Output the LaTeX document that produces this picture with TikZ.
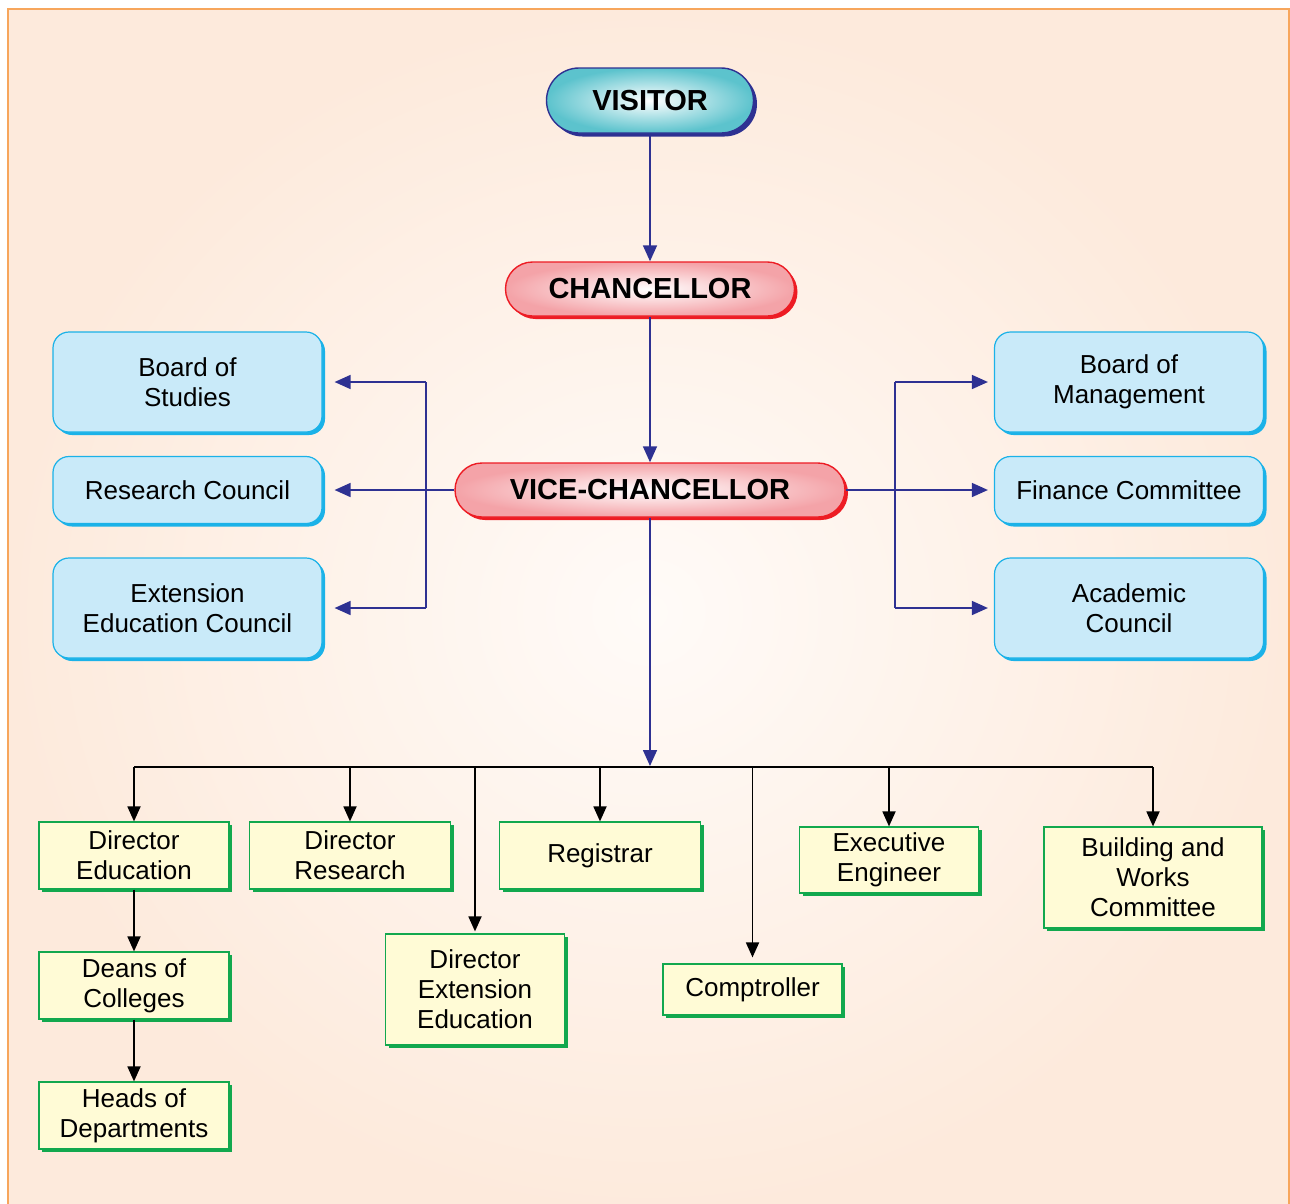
\documentclass[tikz,border=0pt]{standalone}
\usepackage{fontspec}
\setmainfont{Liberation Sans}
\usetikzlibrary{arrows.meta,shadows,shapes.misc}
\definecolor{navy}{HTML}{2E3192}
\definecolor{bgout}{HTML}{FDEADC}
\definecolor{bgin}{HTML}{FFFBF8}
\definecolor{bord}{HTML}{F7A65C}
\definecolor{cyanb}{HTML}{1BB2E8}
\definecolor{bluefill}{HTML}{C9EAF9}
\definecolor{greenb}{HTML}{12A84E}
\definecolor{yfill}{HTML}{FFFBD6}
\definecolor{tealc}{HTML}{5CC3CD}
\definecolor{redb}{HTML}{ED1C24}
\definecolor{pinkfill}{HTML}{F4A3A8}
\tikzset{
  txt/.style={font=\fontsize{26}{30}\selectfont, align=center, text=black, inner sep=0pt},
  oval/.style={rounded rectangle, font=\fontsize{29}{32}\selectfont\bfseries, inner sep=0pt, line width=1.4pt},
  visitorbox/.style={oval, draw=navy, shading=radial, inner color=white, outer color=tealc,
     drop shadow={shadow xshift=3.5pt, shadow yshift=-3.5pt, fill=navy, opacity=1}},
  redbox/.style={oval, draw=redb, shading=radial, inner color=white, outer color=pinkfill,
     drop shadow={shadow xshift=3pt, shadow yshift=-3pt, fill=redb, opacity=1}},
  bluebox/.style={txt, rounded corners=16pt, draw=cyanb, fill=bluefill, line width=1.2pt,
     minimum width=269pt, drop shadow={shadow xshift=3pt, shadow yshift=-3pt, fill=cyanb, opacity=1}},
  greenbox/.style={txt, draw=greenb, fill=yfill, line width=1.2pt,
     drop shadow={shadow xshift=3pt, shadow yshift=-3pt, fill=greenb, opacity=1}},
  barr/.style={draw=navy, line width=1.6pt, -{Triangle[length=16pt,width=14pt]}},
  bline/.style={draw=navy, line width=1.6pt},
  karr/.style={draw=black, line width=1.8pt, -{Triangle[length=15pt,width=13pt]}},
  kline/.style={draw=black, line width=1.8pt},
}
\begin{document}
\begin{tikzpicture}[x=1pt,y=-1pt]
\useasboundingbox (0,0) rectangle (1290,1203);
\clip (0,0) rectangle (1290,1203);
\fill[white] (0,0) rectangle (1290,1203);
\path[shading=radial, inner color=bgin, outer color=bgout, draw=bord, line width=1.8pt]
  (8,9) rectangle (1289,1215);

% top chain
\node[visitorbox, minimum width=207pt, minimum height=65pt] (vis) at (650,100.5) {VISITOR};
\node[redbox, minimum width=289pt, minimum height=54pt] (ch) at (650,289) {CHANCELLOR};
\node[redbox, minimum width=390pt, minimum height=54pt] (vc) at (650,490) {VICE-CHANCELLOR};

% left blue boxes
\node[bluebox, minimum height=100pt] (bos) at (187.5,382) {Board of\\Studies};
\node[bluebox, minimum height=67pt] (rc) at (187.5,490) {Research Council};
\node[bluebox, minimum height=100pt] (eec) at (187.5,608) {Extension\\Education Council};
% right blue boxes
\node[bluebox, minimum height=100pt] (bom) at (1129,382) {Board of\\Management};
\node[bluebox, minimum height=67pt] (fc) at (1129,490) {Finance Committee};
\node[bluebox, minimum height=100pt] (ac) at (1129,608) {Academic\\Council};

% green boxes
\node[greenbox, minimum width=190pt, minimum height=67pt] (de) at (134,855.5) {Director\\Education};
\node[greenbox, minimum width=201pt, minimum height=67pt] (dr) at (350,855.5) {Director\\Research};
\node[greenbox, minimum width=201pt, minimum height=67pt] (reg) at (600,855.5) {Registrar};
\node[greenbox, minimum width=179pt, minimum height=66pt] (ee) at (889,860) {Executive\\Engineer};
\node[greenbox, minimum width=218pt, minimum height=101pt] (bw) at (1153,877.5) {Building and\\Works\\Committee};
\node[greenbox, minimum width=179pt, minimum height=111pt] (dee) at (475,989.5) {Director\\Extension\\Education};
\node[greenbox, minimum width=179pt, minimum height=51pt] (comp) at (752.5,989.5) {Comptroller};
\node[greenbox, minimum width=190pt, minimum height=67pt] (doc) at (134,985.5) {Deans of\\Colleges};
\node[greenbox, minimum width=190pt, minimum height=67pt] (hod) at (134,1115.5) {Heads of\\Departments};

% helper coordinates
\coordinate (lj) at (426,490);
\coordinate (rj) at (895,490);
\coordinate (bus) at (650,767);
\coordinate (rcA) at ([xshift=12pt]rc.east);
\coordinate (bosA) at ([xshift=12pt]bos.east);
\coordinate (eecA) at ([xshift=12pt]eec.east);
\coordinate (fcA) at ([xshift=-6pt]fc.west);
\coordinate (bomA) at ([xshift=-6pt]bom.west);
\coordinate (acA) at ([xshift=-6pt]ac.west);
\coordinate (deeA) at ([yshift=2pt]dee.north);
\coordinate (compA) at ([yshift=6pt]comp.north);

% blue connectors
\draw[barr] (vis.south) -- (ch.north);
\draw[barr] (ch.south) -- (vc.north);
\draw[barr] (vc.west) -- (rcA);
\draw[bline] (lj |- bosA) -- (lj |- eecA);
\draw[barr] (lj |- bosA) -- (bosA);
\draw[barr] (lj |- eecA) -- (eecA);
\draw[barr] (vc.east) -- (fcA);
\draw[bline] (rj |- bomA) -- (rj |- acA);
\draw[barr] (rj |- bomA) -- (bomA);
\draw[barr] (rj |- acA) -- (acA);
\draw[barr] (vc.south) -- ([yshift=1pt]bus);

% black bus
\draw[kline] (de.north |- bus) -- (bw.north |- bus);
\draw[karr] (de.north |- bus) -- (de.north);
\draw[karr] (dr.north |- bus) -- (dr.north);
\draw[karr] (deeA |- bus) -- (deeA);
\draw[karr] (reg.north |- bus) -- (reg.north);
\draw[karr] (compA |- bus) -- (compA);
\draw[karr] (ee.north |- bus) -- (ee.north);
\draw[karr] (bw.north |- bus) -- (bw.north);
\draw[karr] (de.south) -- (doc.north);
\draw[karr] (doc.south) -- (hod.north);
\end{tikzpicture}
\end{document}
